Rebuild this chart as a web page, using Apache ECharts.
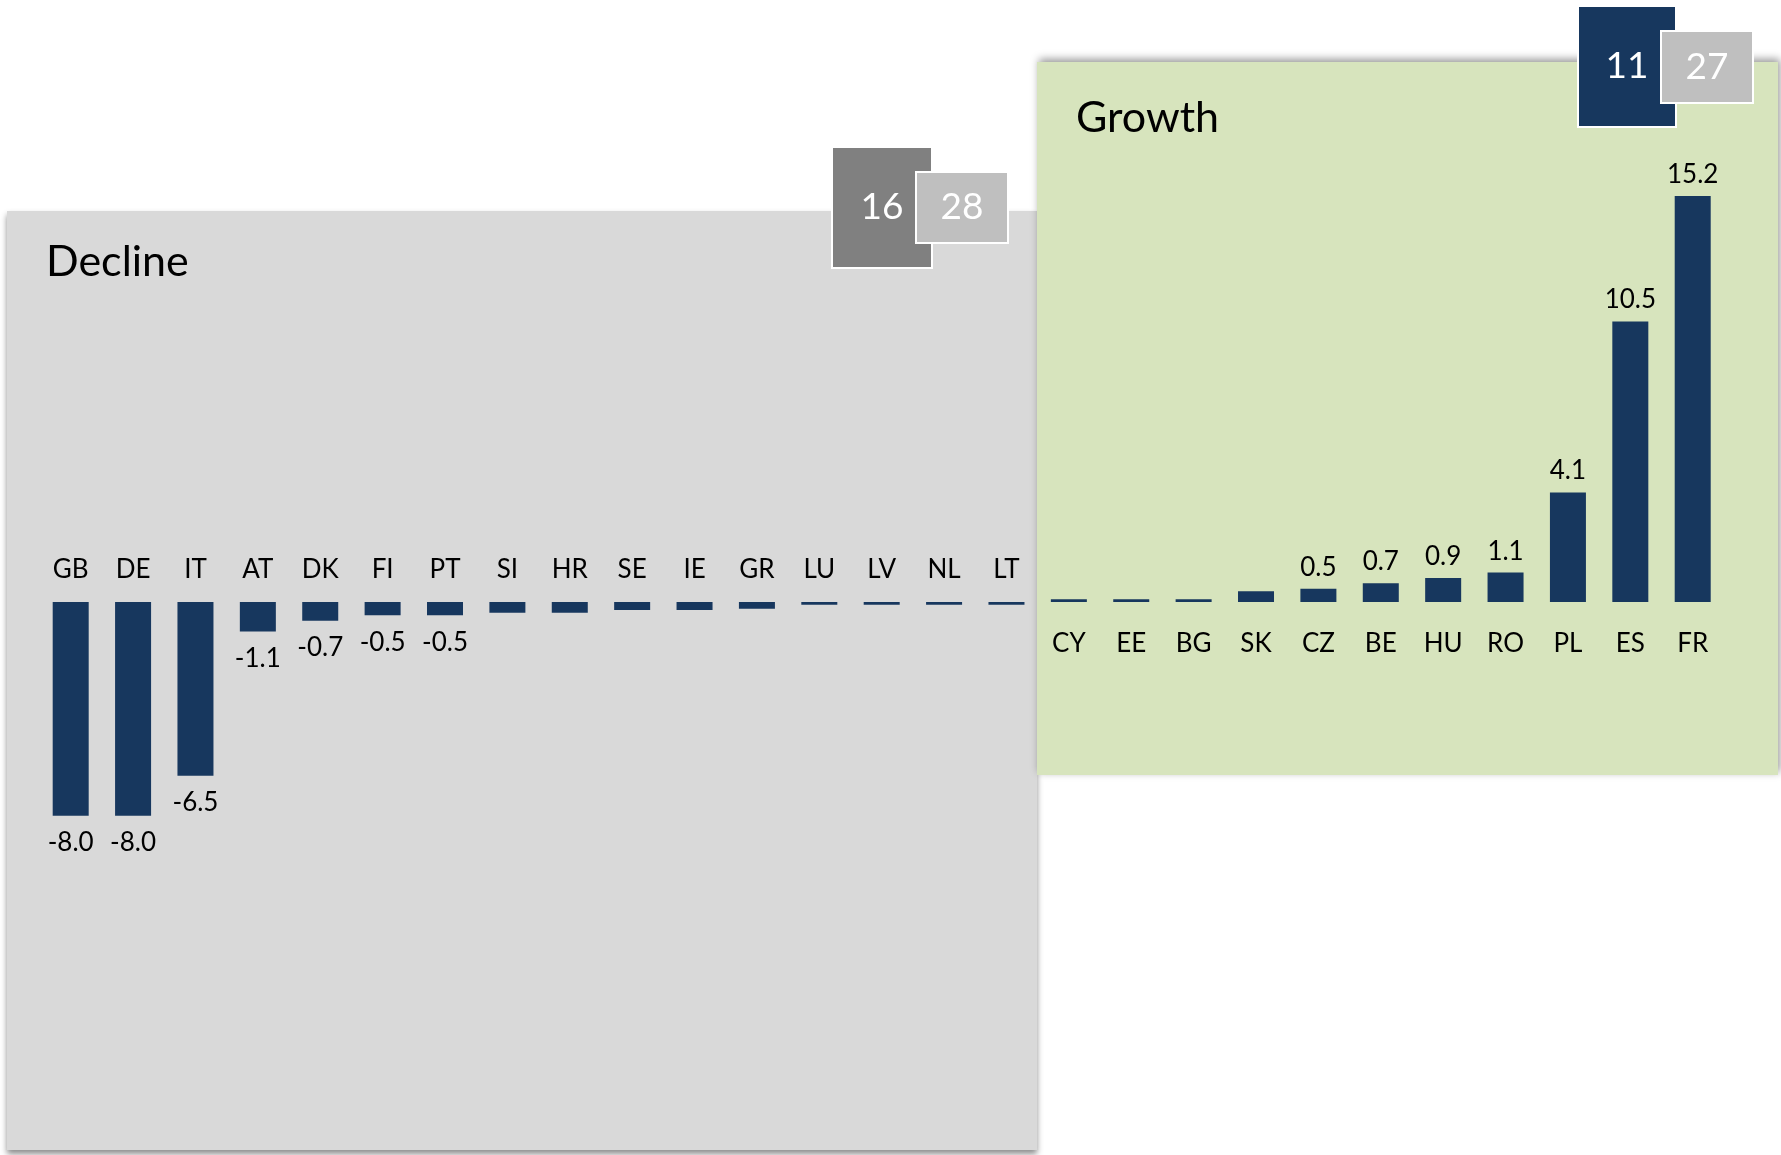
<!DOCTYPE html>
<html><head><meta charset="utf-8">
<script src="https://cdn.jsdelivr.net/npm/echarts@6/dist/echarts.min.js"></script>
<style>html,body{margin:0;padding:0;background:#fff;}#c{width:1781px;height:1155px;}</style>
</head><body><div id="c"></div>
<script>
// ---- data ----
const declineCountries = ['GB','DE','IT','AT','DK','FI','PT','SI','HR','SE','IE','GR','LU','LV','NL','LT'];
const declineValues = [-8.0,-8.0,-6.5,-1.1,-0.7,-0.5,-0.5,-0.4,-0.4,-0.3,-0.3,-0.25,-0.1,-0.1,-0.1,-0.1];
const growthCountries = ['CY','EE','BG','SK','CZ','BE','HU','RO','PL','ES','FR'];
const growthValues = [0.1,0.1,0.1,0.4,0.5,0.7,0.9,1.1,4.1,10.5,15.2];
const panelTitles = ['Decline','Growth'];
const declineBadge = ['16','28'];
const growthBadge = ['11','27'];

// ---- chart ----
const categories = declineCountries.concat(growthCountries);
const values = declineValues.concat(growthValues);
const FONT = 'Lato, "Noto Sans", sans-serif';
const NAVY = '#17375e';

const Y_MIN = -10, Y_MAX = 16;
const GRID_TOP = 174.5, GRID_BOTTOM = 285.8, H = 1155;
const plotH = H - GRID_TOP - GRID_BOTTOM;
const zeroFromTop = plotH * Y_MAX / (Y_MAX - Y_MIN);
const zeroFromBottom = plotH - zeroFromTop;

function badge(x, y, w, h, fill, txt, z) {
  return [
    {type:'rect', z:z, shape:{x:x, y:y, width:w, height:h}, style:{fill:fill, stroke:'#ffffff', lineWidth:2}},
    {type:'text', z:z+1, style:{text:txt, x:x + w/2, y:y + h/2, align:'center', verticalAlign:'middle', fontSize:37, fontFamily:FONT, fill:'#ffffff'}}
  ];
}

const chart = echarts.init(document.getElementById('c'), null, {renderer:'canvas'});
chart.setOption({
  animation: false,
  backgroundColor: 'transparent',
  grid: {left: 39.5, right: 57.1, top: GRID_TOP, bottom: GRID_BOTTOM, containLabel: false, outerBoundsMode: 'none'},
  xAxis: [
    {type:'category', data:categories, position:'bottom', offset: -zeroFromBottom, z: 10,
     axisLine:{show:false, onZero:false}, axisTick:{show:false}, splitLine:{show:false},
     axisLabel:{interval:0, margin:29, fontFamily:FONT, fontSize:26, color:'#000',
       formatter: v => growthCountries.indexOf(v) >= 0 ? v : ''}},
    {type:'category', data:categories, position:'top', offset: -zeroFromTop, z: 10,
     axisLine:{show:false, onZero:false}, axisTick:{show:false}, splitLine:{show:false},
     axisLabel:{interval:0, margin:19.5, fontFamily:FONT, fontSize:26, color:'#000',
       formatter: v => declineCountries.indexOf(v) >= 0 ? v : ''}}
  ],
  yAxis: {type:'value', min:Y_MIN, max:Y_MAX, show:false, splitLine:{show:false}},
  series: [{
    type:'bar', xAxisIndex:0, yAxisIndex:0, barWidth:36, z: 5,
    itemStyle:{color:NAVY},
    label:{fontFamily:FONT, fontSize:26, color:'#000', formatter: p => Number(p.value).toFixed(1)},
    data: values.map(v => ({value:v, label:{show: Math.abs(v) >= 0.45, position: v < 0 ? 'bottom' : 'top', distance: v < 0 ? 14 : 8.5}}))
  }],
  graphic: [
    {type:'rect', z:0, shape:{x:7, y:211, width:1030, height:939},
     style:{fill:'#d9d9d9', shadowBlur:6, shadowOffsetY:4, shadowColor:'rgba(0,0,0,0.45)'}},
    {type:'rect', z:1, shape:{x:1037, y:62, width:741, height:713},
     style:{fill:'#d7e4bd', shadowBlur:8, shadowOffsetX:2, shadowOffsetY:-3, shadowColor:'rgba(0,0,0,0.4)'}},
    {type:'text', z:3, style:{text:panelTitles[0], x:46, y:262.5, verticalAlign:'middle', fontSize:43, fontFamily:FONT, fill:'#000'}},
    {type:'text', z:3, style:{text:panelTitles[1], x:1076, y:118, verticalAlign:'middle', fontSize:43, fontFamily:FONT, fill:'#000'}}
  ].concat(
    badge(832, 147, 100, 121, '#808080', declineBadge[0], 14),
    badge(916, 172, 92, 71, '#bfbfbf', declineBadge[1], 16),
    badge(1578, 6, 98, 121, NAVY, growthBadge[0], 14),
    badge(1661, 31, 92, 72, '#bfbfbf', growthBadge[1], 16)
  )
});
</script>
</body></html>
